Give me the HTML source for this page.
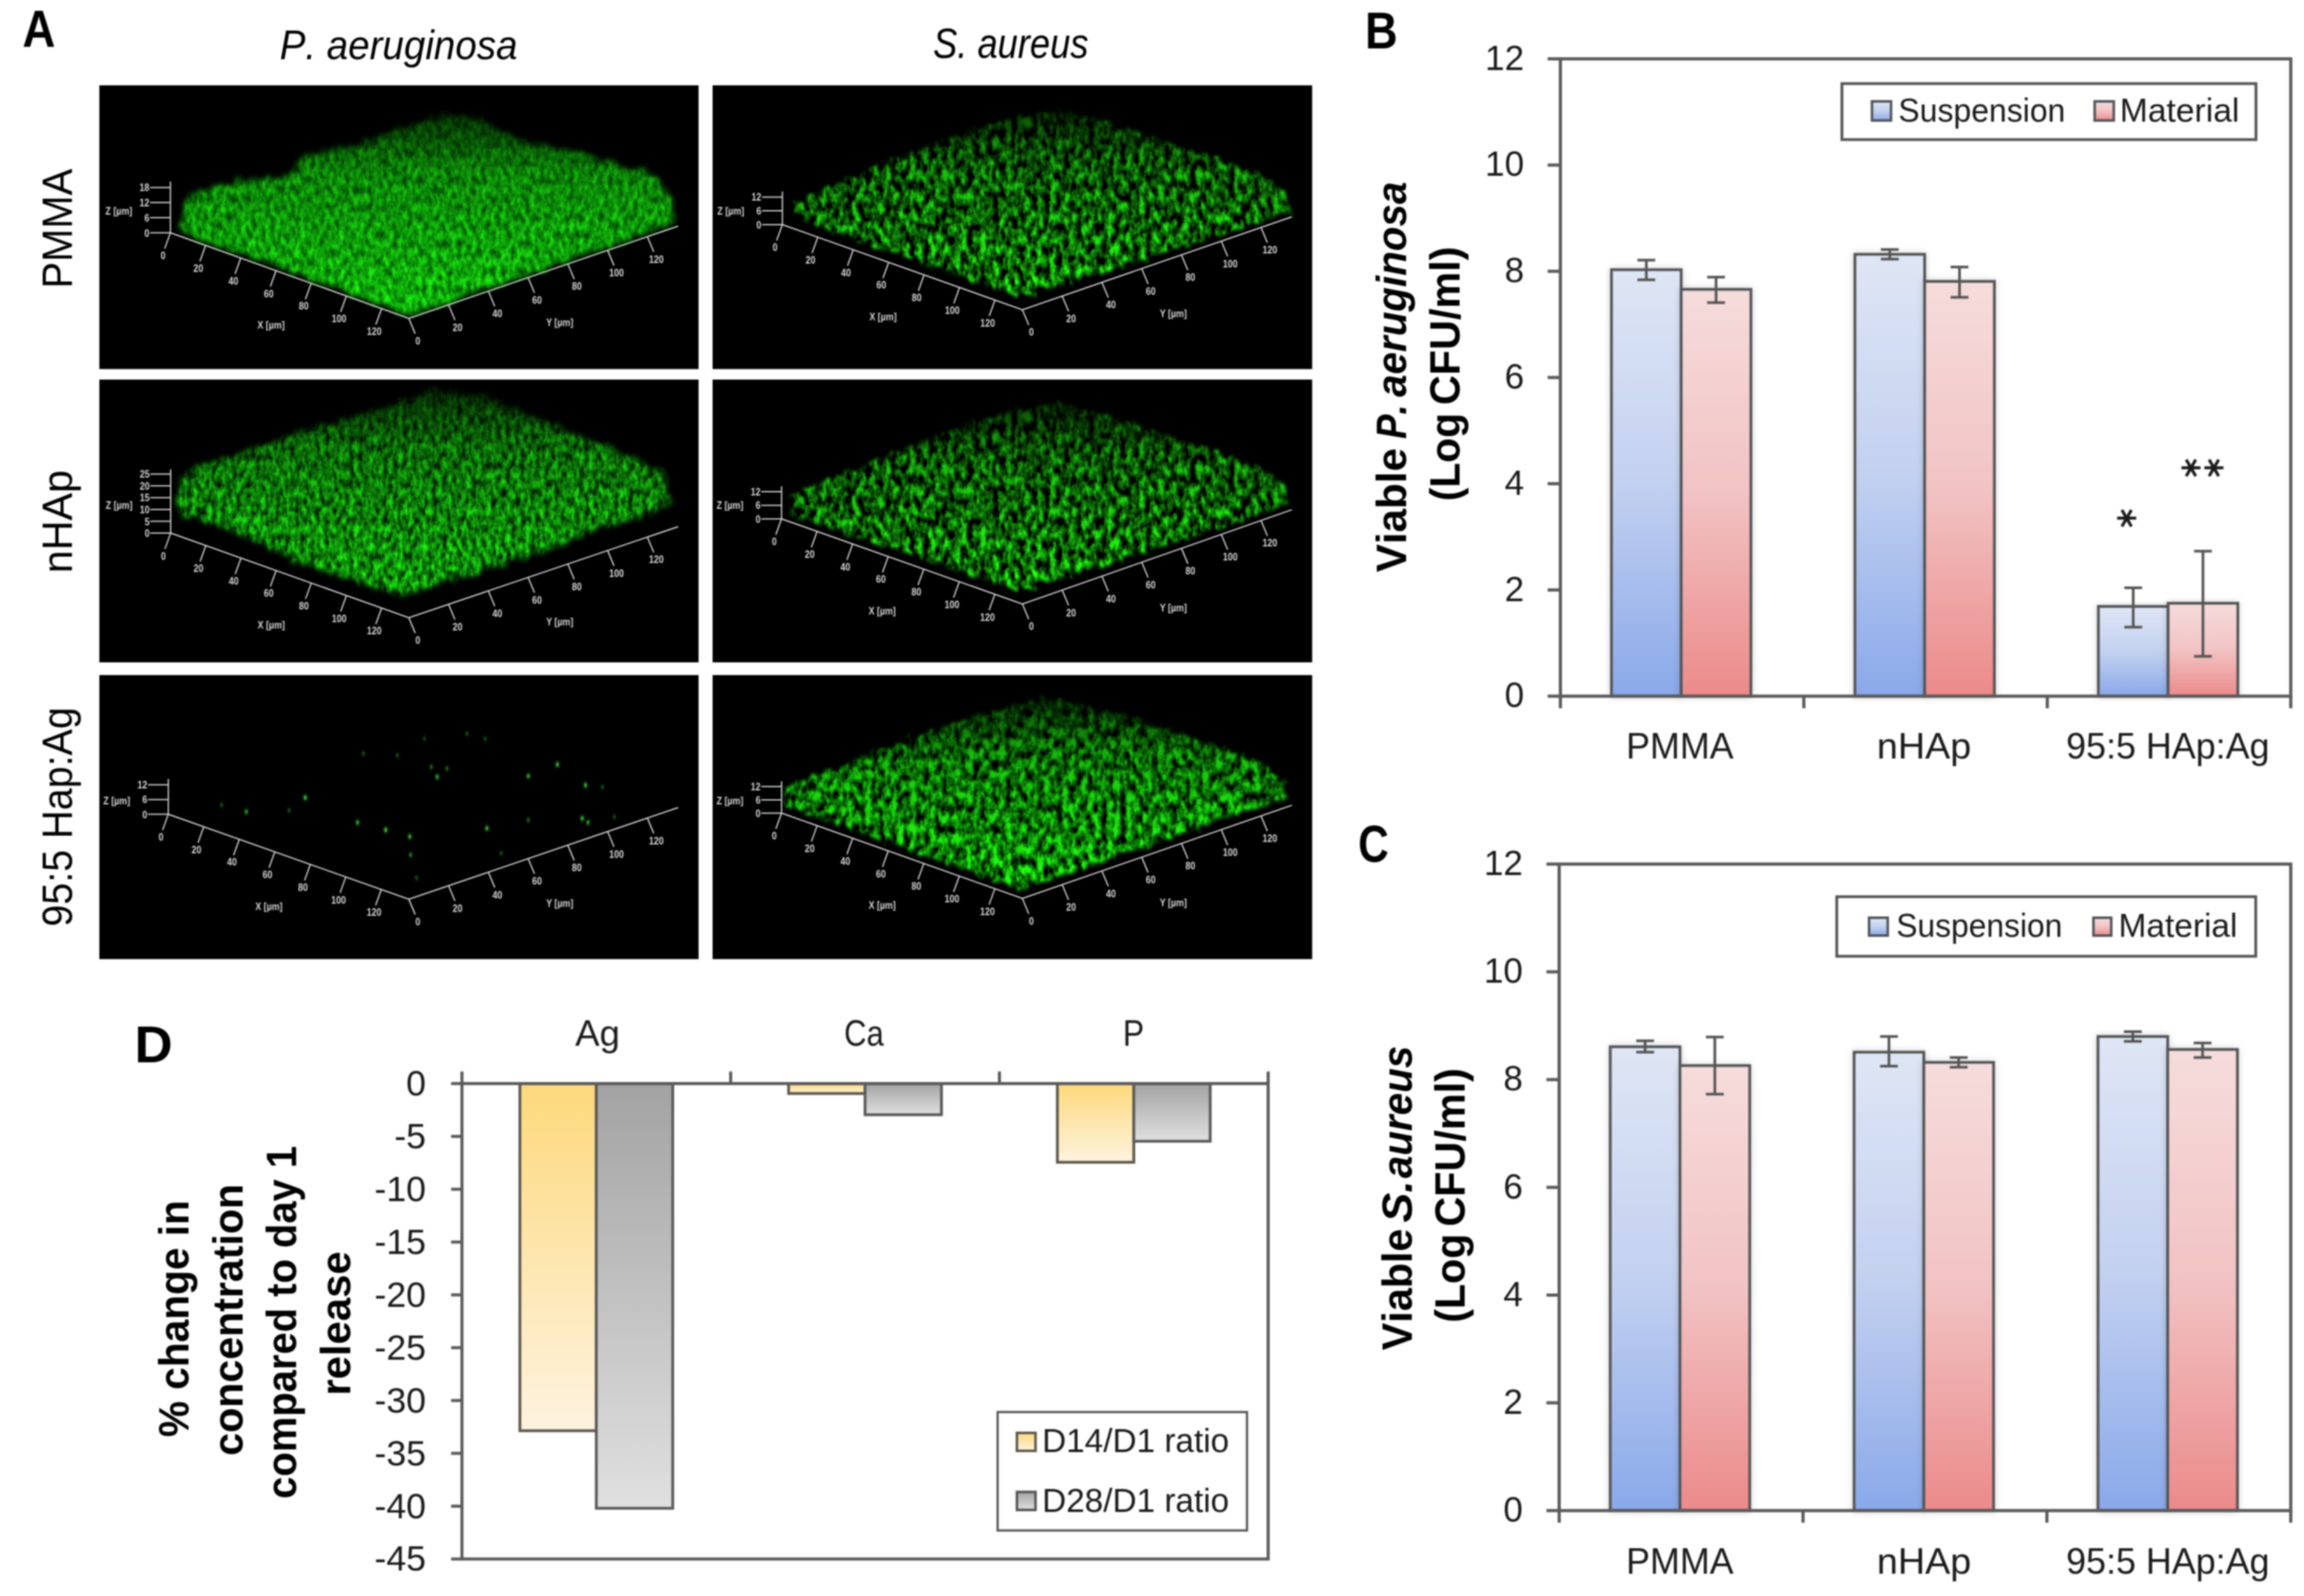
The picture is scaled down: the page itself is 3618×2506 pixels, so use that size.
<!DOCTYPE html>
<html><head><meta charset="utf-8"><title>Figure</title>
<style>html,body{margin:0;padding:0;background:#fff;overflow:hidden}svg{display:block;filter:blur(1.1px)}</style>
</head><body>
<svg width="3618" height="2506" viewBox="0 0 3618 2506">
<defs>
<filter id="fPA" x="-0.05" y="-0.1" width="1.1" height="1.2" color-interpolation-filters="sRGB">
  <feTurbulence type="fractalNoise" baseFrequency="0.13 0.07" numOctaves="4" seed="7" result="n"/>
  <feColorMatrix in="n" type="matrix" values="0.2 0 0 0 -0.04  1.1 0 0 0 0.13  0.1 0 0 0 -0.01  0 0 0 0 1" result="g"/>
  <feTurbulence type="fractalNoise" baseFrequency="0.08" numOctaves="2" seed="2" result="dn"/>
  <feDisplacementMap in="SourceGraphic" in2="dn" scale="22" xChannelSelector="R" yChannelSelector="G" result="disp"/>
  <feGaussianBlur in="disp" stdDeviation="4" result="m"/>
  <feComposite in="g" in2="m" operator="in"/>
</filter>
<filter id="fPA2" x="-0.05" y="-0.1" width="1.1" height="1.2" color-interpolation-filters="sRGB">
  <feTurbulence type="fractalNoise" baseFrequency="0.13 0.07" numOctaves="4" seed="17" result="n"/>
  <feColorMatrix in="n" type="matrix" values="0.2 0 0 0 -0.04  1.5 0 0 0 -0.19  0.1 0 0 0 -0.01  0 0 0 0 1" result="g"/>
  <feTurbulence type="fractalNoise" baseFrequency="0.08" numOctaves="2" seed="12" result="dn"/>
  <feDisplacementMap in="SourceGraphic" in2="dn" scale="22" xChannelSelector="R" yChannelSelector="G" result="disp"/>
  <feGaussianBlur in="disp" stdDeviation="4" result="m"/>
  <feComposite in="g" in2="m" operator="in"/>
</filter>
<filter id="fSA" x="-0.05" y="-0.1" width="1.1" height="1.2" color-interpolation-filters="sRGB">
  <feTurbulence type="fractalNoise" baseFrequency="0.1 0.06" numOctaves="3" seed="3" result="n"/>
  <feColorMatrix in="n" type="matrix" values="0.3 0 0 0 -0.1  2.2 0 0 0 -0.68  0.2 0 0 0 -0.08  0 0 0 0 1" result="g"/>
  <feTurbulence type="fractalNoise" baseFrequency="0.08" numOctaves="2" seed="5" result="dn"/>
  <feDisplacementMap in="SourceGraphic" in2="dn" scale="22" xChannelSelector="R" yChannelSelector="G" result="disp"/>
  <feGaussianBlur in="disp" stdDeviation="2.5" result="m"/>
  <feComposite in="g" in2="m" operator="in"/>
</filter>
<filter id="fSA2" x="-0.05" y="-0.1" width="1.1" height="1.2" color-interpolation-filters="sRGB">
  <feTurbulence type="fractalNoise" baseFrequency="0.1 0.06" numOctaves="3" seed="11" result="n"/>
  <feColorMatrix in="n" type="matrix" values="0.3 0 0 0 -0.1  2.2 0 0 0 -0.56  0.2 0 0 0 -0.08  0 0 0 0 1" result="g"/>
  <feTurbulence type="fractalNoise" baseFrequency="0.08" numOctaves="2" seed="9" result="dn"/>
  <feDisplacementMap in="SourceGraphic" in2="dn" scale="22" xChannelSelector="R" yChannelSelector="G" result="disp"/>
  <feGaussianBlur in="disp" stdDeviation="2.5" result="m"/>
  <feComposite in="g" in2="m" operator="in"/>
</filter>
<linearGradient id="gfade" x1="0" y1="0" x2="0" y2="1">
  <stop offset="0" stop-color="#fff" stop-opacity="0.25"/>
  <stop offset="0.3" stop-color="#fff" stop-opacity="0.75"/>
  <stop offset="0.6" stop-color="#fff" stop-opacity="0.88"/>
  <stop offset="0.9" stop-color="#fff" stop-opacity="1"/>
</linearGradient>

<linearGradient id="gBlue" x1="0" y1="0" x2="0" y2="1">
  <stop offset="0" stop-color="#dfe6f5"/><stop offset="0.5" stop-color="#c3d1f0"/><stop offset="1" stop-color="#8aa9ea"/>
</linearGradient>
<linearGradient id="gRed" x1="0" y1="0" x2="0" y2="1">
  <stop offset="0" stop-color="#f6dcdc"/><stop offset="0.5" stop-color="#f2c3c3"/><stop offset="1" stop-color="#ec8a8a"/>
</linearGradient>
<linearGradient id="gYel" x1="0" y1="0" x2="0" y2="1">
  <stop offset="0" stop-color="#fdd97c"/><stop offset="1" stop-color="#fef3e0"/>
</linearGradient>
<linearGradient id="gGry" x1="0" y1="0" x2="0" y2="1">
  <stop offset="0" stop-color="#a3a3a3"/><stop offset="1" stop-color="#e0e0e0"/>
</linearGradient>
<filter id="shadow" x="-0.2" y="-0.05" width="1.4" height="1.1">
  <feGaussianBlur in="SourceAlpha" stdDeviation="6"/>
  <feComponentTransfer><feFuncA type="linear" slope="0.18"/></feComponentTransfer>
  <feMerge><feMergeNode/><feMergeNode in="SourceGraphic"/></feMerge>
</filter>
</defs>
<rect width="3618" height="2506" fill="#fff"/>
<text x="35.22" y="73.00" textLength="51.67" lengthAdjust="spacingAndGlyphs" style="font-family:'Liberation Sans', Arial, sans-serif;font-size:82.00px;font-weight:bold;font-style:normal;font-kerning:none" fill="#000" >A</text>
<text x="439.14" y="92.60" textLength="373.43" lengthAdjust="spacingAndGlyphs" style="font-family:'Liberation Sans', Arial, sans-serif;font-size:65.00px;font-weight:normal;font-style:italic;font-kerning:none" fill="#000" >P. aeruginosa</text>
<text x="1465.19" y="91.20" textLength="243.98" lengthAdjust="spacingAndGlyphs" style="font-family:'Liberation Sans', Arial, sans-serif;font-size:66.00px;font-weight:normal;font-style:italic;font-kerning:none" fill="#000" >S. aureus</text>
<text transform="translate(113.00,447.80) rotate(-90)" x="-5.14" y="0" textLength="187.86" lengthAdjust="spacingAndGlyphs" style="font-family:'Liberation Sans', Arial, sans-serif;font-size:67.00px;font-weight:normal;font-style:normal;font-kerning:none" fill="#000" >PMMA</text>
<text transform="translate(112.80,895.80) rotate(-90)" x="-4.30" y="0" textLength="162.13" lengthAdjust="spacingAndGlyphs" style="font-family:'Liberation Sans', Arial, sans-serif;font-size:67.00px;font-weight:normal;font-style:normal;font-kerning:none" fill="#000" >nHAp</text>
<text transform="translate(112.60,1452.00) rotate(-90)" x="-2.91" y="0" textLength="344.60" lengthAdjust="spacingAndGlyphs" style="font-family:'Liberation Sans', Arial, sans-serif;font-size:67.00px;font-weight:normal;font-style:normal;font-kerning:none" fill="#000" >95:5 Hap:Ag</text>
<rect x="156" y="134" width="941.0" height="445.5" fill="#000"/>
<g transform="translate(156,134)">
<polygon points="128,230 127,192 144,172 213,151 300,142 318,113 422,88 491,62 543,44 595,52 665,88 769,112 873,142 897,183 904,216 490,361" fill="url(#gfade)" filter="url(#fPA)"/>
<g stroke="#d4d0d4" stroke-width="2" fill="none">
<polyline points="111.6,150.9 111.6,231.5 486,366 909,221"/>
<line x1="111.6" y1="231.5" x2="102.6" y2="256.5"/>
<line x1="486.0" y1="366.0" x2="496.0" y2="390.0"/>
<line x1="166.9" y1="251.4" x2="157.9" y2="276.4"/>
<line x1="548.4" y1="344.6" x2="558.4" y2="368.6"/>
<line x1="222.1" y1="271.2" x2="213.1" y2="296.2"/>
<line x1="610.9" y1="323.2" x2="620.9" y2="347.2"/>
<line x1="277.4" y1="291.1" x2="268.4" y2="316.1"/>
<line x1="673.3" y1="301.8" x2="683.3" y2="325.8"/>
<line x1="332.6" y1="310.9" x2="323.6" y2="335.9"/>
<line x1="735.7" y1="280.4" x2="745.7" y2="304.4"/>
<line x1="387.9" y1="330.8" x2="378.9" y2="355.8"/>
<line x1="798.2" y1="259.0" x2="808.2" y2="283.0"/>
<line x1="443.2" y1="350.6" x2="434.2" y2="375.6"/>
<line x1="860.6" y1="237.6" x2="870.6" y2="261.6"/>
<line x1="79.6" y1="231.5" x2="111.6" y2="231.5"/>
<line x1="79.6" y1="207.8" x2="111.6" y2="207.8"/>
<line x1="79.6" y1="184.1" x2="111.6" y2="184.1"/>
<line x1="79.6" y1="160.4" x2="111.6" y2="160.4"/>
</g>
<g fill="#d4d4d4" style="font-family:'Liberation Sans', Arial, sans-serif;font-size:17px;font-weight:bold">
<text transform="translate(100.1,273.0) scale(0.82,1)" text-anchor="middle">0</text>
<text transform="translate(500.0,407.0) scale(0.82,1)" text-anchor="middle">0</text>
<text transform="translate(155.4,292.9) scale(0.82,1)" text-anchor="middle">20</text>
<text transform="translate(562.4,385.6) scale(0.82,1)" text-anchor="middle">20</text>
<text transform="translate(210.6,312.7) scale(0.82,1)" text-anchor="middle">40</text>
<text transform="translate(624.9,364.2) scale(0.82,1)" text-anchor="middle">40</text>
<text transform="translate(265.9,332.6) scale(0.82,1)" text-anchor="middle">60</text>
<text transform="translate(687.3,342.8) scale(0.82,1)" text-anchor="middle">60</text>
<text transform="translate(321.1,352.4) scale(0.82,1)" text-anchor="middle">80</text>
<text transform="translate(749.7,321.4) scale(0.82,1)" text-anchor="middle">80</text>
<text transform="translate(376.4,372.3) scale(0.82,1)" text-anchor="middle">100</text>
<text transform="translate(812.2,300.0) scale(0.82,1)" text-anchor="middle">100</text>
<text transform="translate(431.7,392.1) scale(0.82,1)" text-anchor="middle">120</text>
<text transform="translate(874.6,278.6) scale(0.82,1)" text-anchor="middle">120</text>
<text transform="translate(78.6,237.5) scale(0.82,1)" text-anchor="end">0</text>
<text transform="translate(78.6,213.8) scale(0.82,1)" text-anchor="end">6</text>
<text transform="translate(78.6,190.1) scale(0.82,1)" text-anchor="end">12</text>
<text transform="translate(78.6,166.4) scale(0.82,1)" text-anchor="end">18</text>
<text transform="translate(9.6,203.0) scale(0.82,1)" text-anchor="start">Z [µm]</text>
<text transform="translate(269.6,381.5) scale(0.82,1)" text-anchor="middle">X [µm]</text>
<text transform="translate(723.0,378.0) scale(0.82,1)" text-anchor="middle">Y [µm]</text>
</g>
</g>
<rect x="1119" y="134" width="941.5" height="445.5" fill="#000"/>
<g transform="translate(1119,134)">
<polygon points="127,206 127,184 204,151 327,102 409,69 490,45 544,39 654,69 776,110 858,139 907,176 907,200 486,333" fill="url(#gfade)" filter="url(#fSA)"/>
<g stroke="#d4d0d4" stroke-width="2" fill="none">
<polyline points="109.6,166.8 109.6,218.7 486.5,352.4 909.6,206.5"/>
<line x1="109.6" y1="218.7" x2="100.6" y2="243.7"/>
<line x1="486.5" y1="352.4" x2="496.5" y2="376.4"/>
<line x1="165.2" y1="238.4" x2="156.2" y2="263.4"/>
<line x1="549.0" y1="330.9" x2="559.0" y2="354.9"/>
<line x1="220.9" y1="258.2" x2="211.9" y2="283.2"/>
<line x1="611.4" y1="309.3" x2="621.4" y2="333.3"/>
<line x1="276.5" y1="277.9" x2="267.5" y2="302.9"/>
<line x1="673.9" y1="287.8" x2="683.9" y2="311.8"/>
<line x1="332.1" y1="297.6" x2="323.1" y2="322.6"/>
<line x1="736.3" y1="266.3" x2="746.3" y2="290.3"/>
<line x1="387.8" y1="317.4" x2="378.8" y2="342.4"/>
<line x1="798.8" y1="244.7" x2="808.8" y2="268.7"/>
<line x1="443.4" y1="337.1" x2="434.4" y2="362.1"/>
<line x1="861.2" y1="223.2" x2="871.2" y2="247.2"/>
<line x1="77.6" y1="218.7" x2="109.6" y2="218.7"/>
<line x1="77.6" y1="197.1" x2="109.6" y2="197.1"/>
<line x1="77.6" y1="175.4" x2="109.6" y2="175.4"/>
</g>
<g fill="#d4d4d4" style="font-family:'Liberation Sans', Arial, sans-serif;font-size:17px;font-weight:bold">
<text transform="translate(98.1,260.2) scale(0.82,1)" text-anchor="middle">0</text>
<text transform="translate(500.5,393.4) scale(0.82,1)" text-anchor="middle">0</text>
<text transform="translate(153.7,279.9) scale(0.82,1)" text-anchor="middle">20</text>
<text transform="translate(563.0,371.9) scale(0.82,1)" text-anchor="middle">20</text>
<text transform="translate(209.4,299.7) scale(0.82,1)" text-anchor="middle">40</text>
<text transform="translate(625.4,350.3) scale(0.82,1)" text-anchor="middle">40</text>
<text transform="translate(265.0,319.4) scale(0.82,1)" text-anchor="middle">60</text>
<text transform="translate(687.9,328.8) scale(0.82,1)" text-anchor="middle">60</text>
<text transform="translate(320.6,339.1) scale(0.82,1)" text-anchor="middle">80</text>
<text transform="translate(750.3,307.3) scale(0.82,1)" text-anchor="middle">80</text>
<text transform="translate(376.3,358.9) scale(0.82,1)" text-anchor="middle">100</text>
<text transform="translate(812.8,285.7) scale(0.82,1)" text-anchor="middle">100</text>
<text transform="translate(431.9,378.6) scale(0.82,1)" text-anchor="middle">120</text>
<text transform="translate(875.2,264.2) scale(0.82,1)" text-anchor="middle">120</text>
<text transform="translate(76.6,224.7) scale(0.82,1)" text-anchor="end">0</text>
<text transform="translate(76.6,203.1) scale(0.82,1)" text-anchor="end">6</text>
<text transform="translate(76.6,181.4) scale(0.82,1)" text-anchor="end">12</text>
<text transform="translate(7.6,203.0) scale(0.82,1)" text-anchor="start">Z [µm]</text>
<text transform="translate(267.6,368.7) scale(0.82,1)" text-anchor="middle">X [µm]</text>
<text transform="translate(723.5,364.4) scale(0.82,1)" text-anchor="middle">Y [µm]</text>
</g>
</g>
<rect x="156" y="596" width="941.0" height="444.0" fill="#000"/>
<g transform="translate(156,596)">
<polygon points="131,216 122,196 124,172 144,140 248,108 352,73 456,42 526,14 595,25 700,66 804,108 890,150 897,191 873,205 769,240 700,268 470,339 318,289 248,254 144,214" fill="url(#gfade)" filter="url(#fPA2)"/>
<g stroke="#d4d0d4" stroke-width="2" fill="none">
<polyline points="112,141 112,241 486,374 909,231"/>
<line x1="112.0" y1="241.0" x2="103.0" y2="266.0"/>
<line x1="486.0" y1="374.0" x2="496.0" y2="398.0"/>
<line x1="167.2" y1="260.6" x2="158.2" y2="285.6"/>
<line x1="548.4" y1="352.9" x2="558.4" y2="376.9"/>
<line x1="222.4" y1="280.3" x2="213.4" y2="305.3"/>
<line x1="610.9" y1="331.8" x2="620.9" y2="355.8"/>
<line x1="277.6" y1="299.9" x2="268.6" y2="324.9"/>
<line x1="673.3" y1="310.7" x2="683.3" y2="334.7"/>
<line x1="332.8" y1="319.5" x2="323.8" y2="344.5"/>
<line x1="735.7" y1="289.6" x2="745.7" y2="313.6"/>
<line x1="388.0" y1="339.2" x2="379.0" y2="364.2"/>
<line x1="798.2" y1="268.5" x2="808.2" y2="292.5"/>
<line x1="443.2" y1="358.8" x2="434.2" y2="383.8"/>
<line x1="860.6" y1="247.4" x2="870.6" y2="271.4"/>
<line x1="80.0" y1="241.0" x2="112.0" y2="241.0"/>
<line x1="80.0" y1="222.5" x2="112.0" y2="222.5"/>
<line x1="80.0" y1="204.0" x2="112.0" y2="204.0"/>
<line x1="80.0" y1="185.4" x2="112.0" y2="185.4"/>
<line x1="80.0" y1="166.9" x2="112.0" y2="166.9"/>
<line x1="80.0" y1="148.4" x2="112.0" y2="148.4"/>
</g>
<g fill="#d4d4d4" style="font-family:'Liberation Sans', Arial, sans-serif;font-size:17px;font-weight:bold">
<text transform="translate(100.5,282.5) scale(0.82,1)" text-anchor="middle">0</text>
<text transform="translate(500.0,415.0) scale(0.82,1)" text-anchor="middle">0</text>
<text transform="translate(155.7,302.1) scale(0.82,1)" text-anchor="middle">20</text>
<text transform="translate(562.4,393.9) scale(0.82,1)" text-anchor="middle">20</text>
<text transform="translate(210.9,321.8) scale(0.82,1)" text-anchor="middle">40</text>
<text transform="translate(624.9,372.8) scale(0.82,1)" text-anchor="middle">40</text>
<text transform="translate(266.1,341.4) scale(0.82,1)" text-anchor="middle">60</text>
<text transform="translate(687.3,351.7) scale(0.82,1)" text-anchor="middle">60</text>
<text transform="translate(321.3,361.0) scale(0.82,1)" text-anchor="middle">80</text>
<text transform="translate(749.7,330.6) scale(0.82,1)" text-anchor="middle">80</text>
<text transform="translate(376.5,380.7) scale(0.82,1)" text-anchor="middle">100</text>
<text transform="translate(812.2,309.5) scale(0.82,1)" text-anchor="middle">100</text>
<text transform="translate(431.7,400.3) scale(0.82,1)" text-anchor="middle">120</text>
<text transform="translate(874.6,288.4) scale(0.82,1)" text-anchor="middle">120</text>
<text transform="translate(79.0,247.0) scale(0.82,1)" text-anchor="end">0</text>
<text transform="translate(79.0,228.5) scale(0.82,1)" text-anchor="end">5</text>
<text transform="translate(79.0,210.0) scale(0.82,1)" text-anchor="end">10</text>
<text transform="translate(79.0,191.4) scale(0.82,1)" text-anchor="end">15</text>
<text transform="translate(79.0,172.9) scale(0.82,1)" text-anchor="end">20</text>
<text transform="translate(79.0,154.4) scale(0.82,1)" text-anchor="end">25</text>
<text transform="translate(10.0,203.0) scale(0.82,1)" text-anchor="start">Z [µm]</text>
<text transform="translate(270.0,391.0) scale(0.82,1)" text-anchor="middle">X [µm]</text>
<text transform="translate(723.0,386.0) scale(0.82,1)" text-anchor="middle">Y [µm]</text>
</g>
</g>
<rect x="1119" y="596" width="941.5" height="444.0" fill="#000"/>
<g transform="translate(1119,596)">
<polygon points="123,212 123,180 204,149 327,100 409,67 490,43 544,37 654,67 776,108 858,137 903,172 903,196 486,333" fill="url(#gfade)" filter="url(#fSA)"/>
<g stroke="#d4d0d4" stroke-width="2" fill="none">
<polyline points="108.3,167.6 108.3,218.7 486.5,352.4 909.6,204.4"/>
<line x1="108.3" y1="218.7" x2="99.3" y2="243.7"/>
<line x1="486.5" y1="352.4" x2="496.5" y2="376.4"/>
<line x1="164.1" y1="238.4" x2="155.1" y2="263.4"/>
<line x1="549.0" y1="330.6" x2="559.0" y2="354.6"/>
<line x1="219.9" y1="258.2" x2="210.9" y2="283.2"/>
<line x1="611.4" y1="308.7" x2="621.4" y2="332.7"/>
<line x1="275.8" y1="277.9" x2="266.8" y2="302.9"/>
<line x1="673.9" y1="286.9" x2="683.9" y2="310.9"/>
<line x1="331.6" y1="297.6" x2="322.6" y2="322.6"/>
<line x1="736.3" y1="265.0" x2="746.3" y2="289.0"/>
<line x1="387.4" y1="317.4" x2="378.4" y2="342.4"/>
<line x1="798.8" y1="243.2" x2="808.8" y2="267.2"/>
<line x1="443.2" y1="337.1" x2="434.2" y2="362.1"/>
<line x1="861.2" y1="221.3" x2="871.2" y2="245.3"/>
<line x1="76.3" y1="218.7" x2="108.3" y2="218.7"/>
<line x1="76.3" y1="197.4" x2="108.3" y2="197.4"/>
<line x1="76.3" y1="176.1" x2="108.3" y2="176.1"/>
</g>
<g fill="#d4d4d4" style="font-family:'Liberation Sans', Arial, sans-serif;font-size:17px;font-weight:bold">
<text transform="translate(96.8,260.2) scale(0.82,1)" text-anchor="middle">0</text>
<text transform="translate(500.5,393.4) scale(0.82,1)" text-anchor="middle">0</text>
<text transform="translate(152.6,279.9) scale(0.82,1)" text-anchor="middle">20</text>
<text transform="translate(563.0,371.6) scale(0.82,1)" text-anchor="middle">20</text>
<text transform="translate(208.4,299.7) scale(0.82,1)" text-anchor="middle">40</text>
<text transform="translate(625.4,349.7) scale(0.82,1)" text-anchor="middle">40</text>
<text transform="translate(264.3,319.4) scale(0.82,1)" text-anchor="middle">60</text>
<text transform="translate(687.9,327.9) scale(0.82,1)" text-anchor="middle">60</text>
<text transform="translate(320.1,339.1) scale(0.82,1)" text-anchor="middle">80</text>
<text transform="translate(750.3,306.0) scale(0.82,1)" text-anchor="middle">80</text>
<text transform="translate(375.9,358.9) scale(0.82,1)" text-anchor="middle">100</text>
<text transform="translate(812.8,284.2) scale(0.82,1)" text-anchor="middle">100</text>
<text transform="translate(431.7,378.6) scale(0.82,1)" text-anchor="middle">120</text>
<text transform="translate(875.2,262.3) scale(0.82,1)" text-anchor="middle">120</text>
<text transform="translate(75.3,224.7) scale(0.82,1)" text-anchor="end">0</text>
<text transform="translate(75.3,203.4) scale(0.82,1)" text-anchor="end">6</text>
<text transform="translate(75.3,182.1) scale(0.82,1)" text-anchor="end">12</text>
<text transform="translate(6.3,203.0) scale(0.82,1)" text-anchor="start">Z [µm]</text>
<text transform="translate(266.3,368.7) scale(0.82,1)" text-anchor="middle">X [µm]</text>
<text transform="translate(723.5,364.4) scale(0.82,1)" text-anchor="middle">Y [µm]</text>
</g>
</g>
<rect x="156" y="1060" width="941.0" height="446.0" fill="#000"/>
<g transform="translate(156,1060)">
<ellipse cx="323.4" cy="192.3" rx="2.2" ry="3.6" fill="#3fd23f" opacity="1.00"/>
<ellipse cx="323.4" cy="192.3" rx="5" ry="7" fill="#1a6a1a" opacity="0.35"/>
<ellipse cx="405.5" cy="231.4" rx="2.2" ry="3.6" fill="#3fd23f" opacity="0.80"/>
<ellipse cx="405.5" cy="231.4" rx="5" ry="7" fill="#1a6a1a" opacity="0.28"/>
<ellipse cx="449.7" cy="243.1" rx="2.2" ry="3.6" fill="#3fd23f" opacity="1.00"/>
<ellipse cx="449.7" cy="243.1" rx="5" ry="7" fill="#1a6a1a" opacity="0.35"/>
<ellipse cx="487.5" cy="253.5" rx="2.2" ry="3.6" fill="#3fd23f" opacity="0.90"/>
<ellipse cx="487.5" cy="253.5" rx="5" ry="7" fill="#1a6a1a" opacity="0.32"/>
<ellipse cx="488.8" cy="282.2" rx="2.2" ry="3.6" fill="#3fd23f" opacity="0.50"/>
<ellipse cx="488.8" cy="282.2" rx="5" ry="7" fill="#1a6a1a" opacity="0.17"/>
<ellipse cx="530.5" cy="159.8" rx="2.2" ry="3.6" fill="#3fd23f" opacity="0.80"/>
<ellipse cx="530.5" cy="159.8" rx="5" ry="7" fill="#1a6a1a" opacity="0.28"/>
<ellipse cx="546.0" cy="146.8" rx="2.2" ry="3.6" fill="#3fd23f" opacity="0.40"/>
<ellipse cx="546.0" cy="146.8" rx="5" ry="7" fill="#1a6a1a" opacity="0.14"/>
<ellipse cx="521.3" cy="144.2" rx="2.2" ry="3.6" fill="#3fd23f" opacity="0.40"/>
<ellipse cx="521.3" cy="144.2" rx="5" ry="7" fill="#1a6a1a" opacity="0.14"/>
<ellipse cx="608.6" cy="240.5" rx="2.2" ry="3.6" fill="#3fd23f" opacity="0.90"/>
<ellipse cx="608.6" cy="240.5" rx="5" ry="7" fill="#1a6a1a" opacity="0.32"/>
<ellipse cx="673.7" cy="158.5" rx="2.2" ry="3.6" fill="#3fd23f" opacity="0.80"/>
<ellipse cx="673.7" cy="158.5" rx="5" ry="7" fill="#1a6a1a" opacity="0.28"/>
<ellipse cx="719.3" cy="140.3" rx="2.2" ry="3.6" fill="#3fd23f" opacity="0.90"/>
<ellipse cx="719.3" cy="140.3" rx="5" ry="7" fill="#1a6a1a" opacity="0.32"/>
<ellipse cx="763.5" cy="172.8" rx="2.2" ry="3.6" fill="#3fd23f" opacity="0.90"/>
<ellipse cx="763.5" cy="172.8" rx="5" ry="7" fill="#1a6a1a" opacity="0.32"/>
<ellipse cx="758.3" cy="224.9" rx="2.2" ry="3.6" fill="#3fd23f" opacity="0.90"/>
<ellipse cx="758.3" cy="224.9" rx="5" ry="7" fill="#1a6a1a" opacity="0.32"/>
<ellipse cx="767.4" cy="231.4" rx="2.2" ry="3.6" fill="#3fd23f" opacity="0.70"/>
<ellipse cx="767.4" cy="231.4" rx="5" ry="7" fill="#1a6a1a" opacity="0.24"/>
<ellipse cx="673.7" cy="227.5" rx="2.2" ry="3.6" fill="#3fd23f" opacity="0.40"/>
<ellipse cx="673.7" cy="227.5" rx="5" ry="7" fill="#1a6a1a" opacity="0.14"/>
<ellipse cx="414.6" cy="123.3" rx="2.2" ry="3.6" fill="#3fd23f" opacity="0.30"/>
<ellipse cx="414.6" cy="123.3" rx="5" ry="7" fill="#1a6a1a" opacity="0.10"/>
<ellipse cx="468.0" cy="126.0" rx="2.2" ry="3.6" fill="#3fd23f" opacity="0.30"/>
<ellipse cx="468.0" cy="126.0" rx="5" ry="7" fill="#1a6a1a" opacity="0.10"/>
<ellipse cx="577.3" cy="92.0" rx="2.2" ry="3.6" fill="#3fd23f" opacity="0.30"/>
<ellipse cx="577.3" cy="92.0" rx="5" ry="7" fill="#1a6a1a" opacity="0.10"/>
<ellipse cx="606.0" cy="100.0" rx="2.2" ry="3.6" fill="#3fd23f" opacity="0.30"/>
<ellipse cx="606.0" cy="100.0" rx="5" ry="7" fill="#1a6a1a" opacity="0.10"/>
<ellipse cx="230.8" cy="214.5" rx="2.2" ry="3.6" fill="#3fd23f" opacity="0.70"/>
<ellipse cx="230.8" cy="214.5" rx="5" ry="7" fill="#1a6a1a" opacity="0.24"/>
<ellipse cx="790.0" cy="175.6" rx="2.2" ry="3.6" fill="#3fd23f" opacity="0.30"/>
<ellipse cx="790.0" cy="175.6" rx="5" ry="7" fill="#1a6a1a" opacity="0.10"/>
<ellipse cx="808.8" cy="222.6" rx="2.2" ry="3.6" fill="#3fd23f" opacity="0.30"/>
<ellipse cx="808.8" cy="222.6" rx="5" ry="7" fill="#1a6a1a" opacity="0.10"/>
<ellipse cx="631.0" cy="279.8" rx="2.2" ry="3.6" fill="#3fd23f" opacity="0.30"/>
<ellipse cx="631.0" cy="279.8" rx="5" ry="7" fill="#1a6a1a" opacity="0.10"/>
<ellipse cx="498.0" cy="318.6" rx="2.2" ry="3.6" fill="#3fd23f" opacity="0.30"/>
<ellipse cx="498.0" cy="318.6" rx="5" ry="7" fill="#1a6a1a" opacity="0.10"/>
<ellipse cx="298.0" cy="212.4" rx="2.2" ry="3.6" fill="#3fd23f" opacity="0.30"/>
<ellipse cx="298.0" cy="212.4" rx="5" ry="7" fill="#1a6a1a" opacity="0.10"/>
<ellipse cx="192.0" cy="204.0" rx="2.2" ry="3.6" fill="#3fd23f" opacity="0.30"/>
<ellipse cx="192.0" cy="204.0" rx="5" ry="7" fill="#1a6a1a" opacity="0.10"/>
<ellipse cx="510.6" cy="100.0" rx="2.2" ry="3.6" fill="#3fd23f" opacity="0.25"/>
<ellipse cx="510.6" cy="100.0" rx="5" ry="7" fill="#1a6a1a" opacity="0.09"/>
<g stroke="#d4d0d4" stroke-width="2" fill="none">
<polyline points="108.3,163 108.3,218.5 486,352 909,208"/>
<line x1="108.3" y1="218.5" x2="99.3" y2="243.5"/>
<line x1="486.0" y1="352.0" x2="496.0" y2="376.0"/>
<line x1="164.0" y1="238.2" x2="155.0" y2="263.2"/>
<line x1="548.4" y1="330.7" x2="558.4" y2="354.7"/>
<line x1="219.8" y1="257.9" x2="210.8" y2="282.9"/>
<line x1="610.9" y1="309.5" x2="620.9" y2="333.5"/>
<line x1="275.5" y1="277.6" x2="266.5" y2="302.6"/>
<line x1="673.3" y1="288.2" x2="683.3" y2="312.2"/>
<line x1="331.3" y1="297.3" x2="322.3" y2="322.3"/>
<line x1="735.7" y1="267.0" x2="745.7" y2="291.0"/>
<line x1="387.0" y1="317.0" x2="378.0" y2="342.0"/>
<line x1="798.2" y1="245.7" x2="808.2" y2="269.7"/>
<line x1="442.8" y1="336.7" x2="433.8" y2="361.7"/>
<line x1="860.6" y1="224.5" x2="870.6" y2="248.5"/>
<line x1="76.3" y1="218.5" x2="108.3" y2="218.5"/>
<line x1="76.3" y1="195.4" x2="108.3" y2="195.4"/>
<line x1="76.3" y1="172.2" x2="108.3" y2="172.2"/>
</g>
<g fill="#d4d4d4" style="font-family:'Liberation Sans', Arial, sans-serif;font-size:17px;font-weight:bold">
<text transform="translate(96.8,260.0) scale(0.82,1)" text-anchor="middle">0</text>
<text transform="translate(500.0,393.0) scale(0.82,1)" text-anchor="middle">0</text>
<text transform="translate(152.5,279.7) scale(0.82,1)" text-anchor="middle">20</text>
<text transform="translate(562.4,371.7) scale(0.82,1)" text-anchor="middle">20</text>
<text transform="translate(208.3,299.4) scale(0.82,1)" text-anchor="middle">40</text>
<text transform="translate(624.9,350.5) scale(0.82,1)" text-anchor="middle">40</text>
<text transform="translate(264.0,319.1) scale(0.82,1)" text-anchor="middle">60</text>
<text transform="translate(687.3,329.2) scale(0.82,1)" text-anchor="middle">60</text>
<text transform="translate(319.8,338.8) scale(0.82,1)" text-anchor="middle">80</text>
<text transform="translate(749.7,308.0) scale(0.82,1)" text-anchor="middle">80</text>
<text transform="translate(375.5,358.5) scale(0.82,1)" text-anchor="middle">100</text>
<text transform="translate(812.2,286.7) scale(0.82,1)" text-anchor="middle">100</text>
<text transform="translate(431.3,378.2) scale(0.82,1)" text-anchor="middle">120</text>
<text transform="translate(874.6,265.5) scale(0.82,1)" text-anchor="middle">120</text>
<text transform="translate(75.3,224.5) scale(0.82,1)" text-anchor="end">0</text>
<text transform="translate(75.3,201.4) scale(0.82,1)" text-anchor="end">6</text>
<text transform="translate(75.3,178.2) scale(0.82,1)" text-anchor="end">12</text>
<text transform="translate(6.3,203.0) scale(0.82,1)" text-anchor="start">Z [µm]</text>
<text transform="translate(266.3,368.5) scale(0.82,1)" text-anchor="middle">X [µm]</text>
<text transform="translate(723.0,364.0) scale(0.82,1)" text-anchor="middle">Y [µm]</text>
</g>
</g>
<rect x="1119" y="1060" width="941.5" height="446.0" fill="#000"/>
<g transform="translate(1119,1060)">
<polygon points="114,204 114,176 204,143 327,96 409,65 490,43 531,37 654,65 776,106 858,135 899,172 899,192 486,337" fill="url(#gfade)" filter="url(#fSA2)"/>
<g stroke="#d4d0d4" stroke-width="2" fill="none">
<polyline points="108.3,166.8 108.3,216.7 486.5,350.8 909.6,204.4"/>
<line x1="108.3" y1="216.7" x2="99.3" y2="241.7"/>
<line x1="486.5" y1="350.8" x2="496.5" y2="374.8"/>
<line x1="164.1" y1="236.5" x2="155.1" y2="261.5"/>
<line x1="549.0" y1="329.2" x2="559.0" y2="353.2"/>
<line x1="219.9" y1="256.3" x2="210.9" y2="281.3"/>
<line x1="611.4" y1="307.6" x2="621.4" y2="331.6"/>
<line x1="275.8" y1="276.1" x2="266.8" y2="301.1"/>
<line x1="673.9" y1="286.0" x2="683.9" y2="310.0"/>
<line x1="331.6" y1="295.9" x2="322.6" y2="320.9"/>
<line x1="736.3" y1="264.4" x2="746.3" y2="288.4"/>
<line x1="387.4" y1="315.7" x2="378.4" y2="340.7"/>
<line x1="798.8" y1="242.8" x2="808.8" y2="266.8"/>
<line x1="443.2" y1="335.5" x2="434.2" y2="360.5"/>
<line x1="861.2" y1="221.1" x2="871.2" y2="245.1"/>
<line x1="76.3" y1="216.7" x2="108.3" y2="216.7"/>
<line x1="76.3" y1="195.9" x2="108.3" y2="195.9"/>
<line x1="76.3" y1="175.1" x2="108.3" y2="175.1"/>
</g>
<g fill="#d4d4d4" style="font-family:'Liberation Sans', Arial, sans-serif;font-size:17px;font-weight:bold">
<text transform="translate(96.8,258.2) scale(0.82,1)" text-anchor="middle">0</text>
<text transform="translate(500.5,391.8) scale(0.82,1)" text-anchor="middle">0</text>
<text transform="translate(152.6,278.0) scale(0.82,1)" text-anchor="middle">20</text>
<text transform="translate(563.0,370.2) scale(0.82,1)" text-anchor="middle">20</text>
<text transform="translate(208.4,297.8) scale(0.82,1)" text-anchor="middle">40</text>
<text transform="translate(625.4,348.6) scale(0.82,1)" text-anchor="middle">40</text>
<text transform="translate(264.3,317.6) scale(0.82,1)" text-anchor="middle">60</text>
<text transform="translate(687.9,327.0) scale(0.82,1)" text-anchor="middle">60</text>
<text transform="translate(320.1,337.4) scale(0.82,1)" text-anchor="middle">80</text>
<text transform="translate(750.3,305.4) scale(0.82,1)" text-anchor="middle">80</text>
<text transform="translate(375.9,357.2) scale(0.82,1)" text-anchor="middle">100</text>
<text transform="translate(812.8,283.8) scale(0.82,1)" text-anchor="middle">100</text>
<text transform="translate(431.7,377.0) scale(0.82,1)" text-anchor="middle">120</text>
<text transform="translate(875.2,262.1) scale(0.82,1)" text-anchor="middle">120</text>
<text transform="translate(75.3,222.7) scale(0.82,1)" text-anchor="end">0</text>
<text transform="translate(75.3,201.9) scale(0.82,1)" text-anchor="end">6</text>
<text transform="translate(75.3,181.1) scale(0.82,1)" text-anchor="end">12</text>
<text transform="translate(6.3,203.0) scale(0.82,1)" text-anchor="start">Z [µm]</text>
<text transform="translate(266.3,366.7) scale(0.82,1)" text-anchor="middle">X [µm]</text>
<text transform="translate(723.5,362.8) scale(0.82,1)" text-anchor="middle">Y [µm]</text>
</g>
</g>
<text x="2143.46" y="76.10" textLength="51.16" lengthAdjust="spacingAndGlyphs" style="font-family:'Liberation Sans', Arial, sans-serif;font-size:81.00px;font-weight:bold;font-style:normal;font-kerning:none" fill="#000" >B</text>
<rect x="2530.50" y="423.46" width="109.50" height="669.64" fill="url(#gBlue)" stroke="#555658" stroke-width="4.4" filter="url(#shadow)"/>
<rect x="2640.00" y="454.32" width="109.50" height="638.78" fill="url(#gRed)" stroke="#555658" stroke-width="4.4" filter="url(#shadow)"/>
<g stroke="#555" stroke-width="4.2"><line x1="2585.25" y1="408.45" x2="2585.25" y2="439.31"/><line x1="2571.25" y1="408.45" x2="2599.25" y2="408.45"/><line x1="2571.25" y1="439.31" x2="2599.25" y2="439.31"/></g>
<g stroke="#555" stroke-width="4.2"><line x1="2694.75" y1="435.14" x2="2694.75" y2="475.17"/><line x1="2680.75" y1="435.14" x2="2708.75" y2="435.14"/><line x1="2680.75" y1="475.17" x2="2708.75" y2="475.17"/></g>
<rect x="2912.80" y="399.28" width="109.50" height="693.82" fill="url(#gBlue)" stroke="#555658" stroke-width="4.4" filter="url(#shadow)"/>
<rect x="3022.30" y="441.81" width="109.50" height="651.29" fill="url(#gRed)" stroke="#555658" stroke-width="4.4" filter="url(#shadow)"/>
<g stroke="#555" stroke-width="4.2"><line x1="2967.55" y1="391.78" x2="2967.55" y2="406.79"/><line x1="2953.55" y1="391.78" x2="2981.55" y2="391.78"/><line x1="2953.55" y1="406.79" x2="2981.55" y2="406.79"/></g>
<g stroke="#555" stroke-width="4.2"><line x1="3077.05" y1="419.30" x2="3077.05" y2="466.83"/><line x1="3063.05" y1="419.30" x2="3091.05" y2="419.30"/><line x1="3063.05" y1="466.83" x2="3091.05" y2="466.83"/></g>
<rect x="3295.10" y="952.17" width="109.50" height="140.93" fill="url(#gBlue)" stroke="#555658" stroke-width="4.4" filter="url(#shadow)"/>
<rect x="3404.60" y="947.16" width="109.50" height="145.94" fill="url(#gRed)" stroke="#555658" stroke-width="4.4" filter="url(#shadow)"/>
<g stroke="#555" stroke-width="4.2"><line x1="3349.85" y1="922.98" x2="3349.85" y2="984.69"/><line x1="3335.85" y1="922.98" x2="3363.85" y2="922.98"/><line x1="3335.85" y1="984.69" x2="3363.85" y2="984.69"/></g>
<g stroke="#555" stroke-width="4.2"><line x1="3459.35" y1="865.44" x2="3459.35" y2="1030.56"/><line x1="3445.35" y1="865.44" x2="3473.35" y2="865.44"/><line x1="3445.35" y1="1030.56" x2="3473.35" y2="1030.56"/></g>
<rect x="2450.30" y="92.40" width="1146.90" height="1000.70" fill="none" stroke="#5a5a5a" stroke-width="5"/>
<line x1="2430.30" y1="1093.10" x2="2450.30" y2="1093.10" stroke="#5a5a5a" stroke-width="5"/>
<text x="2393.30" y="1110.29" text-anchor="end" style="font-family:'Liberation Sans', Arial, sans-serif;font-size:55px" fill="#1a1a1a">0</text>
<line x1="2430.30" y1="926.32" x2="2450.30" y2="926.32" stroke="#5a5a5a" stroke-width="5"/>
<text x="2393.30" y="943.51" text-anchor="end" style="font-family:'Liberation Sans', Arial, sans-serif;font-size:55px" fill="#1a1a1a">2</text>
<line x1="2430.30" y1="759.53" x2="2450.30" y2="759.53" stroke="#5a5a5a" stroke-width="5"/>
<text x="2393.30" y="776.73" text-anchor="end" style="font-family:'Liberation Sans', Arial, sans-serif;font-size:55px" fill="#1a1a1a">4</text>
<line x1="2430.30" y1="592.75" x2="2450.30" y2="592.75" stroke="#5a5a5a" stroke-width="5"/>
<text x="2393.30" y="609.94" text-anchor="end" style="font-family:'Liberation Sans', Arial, sans-serif;font-size:55px" fill="#1a1a1a">6</text>
<line x1="2430.30" y1="425.97" x2="2450.30" y2="425.97" stroke="#5a5a5a" stroke-width="5"/>
<text x="2393.30" y="443.16" text-anchor="end" style="font-family:'Liberation Sans', Arial, sans-serif;font-size:55px" fill="#1a1a1a">8</text>
<line x1="2430.30" y1="259.18" x2="2450.30" y2="259.18" stroke="#5a5a5a" stroke-width="5"/>
<text x="2393.30" y="276.38" text-anchor="end" style="font-family:'Liberation Sans', Arial, sans-serif;font-size:55px" fill="#1a1a1a">10</text>
<line x1="2430.30" y1="92.40" x2="2450.30" y2="92.40" stroke="#5a5a5a" stroke-width="5"/>
<text x="2393.30" y="109.59" text-anchor="end" style="font-family:'Liberation Sans', Arial, sans-serif;font-size:55px" fill="#1a1a1a">12</text>
<line x1="2450.30" y1="1093.10" x2="2450.30" y2="1112.10" stroke="#5a5a5a" stroke-width="5"/>
<line x1="2832.60" y1="1093.10" x2="2832.60" y2="1112.10" stroke="#5a5a5a" stroke-width="5"/>
<line x1="3214.90" y1="1093.10" x2="3214.90" y2="1112.10" stroke="#5a5a5a" stroke-width="5"/>
<line x1="3597.20" y1="1093.10" x2="3597.20" y2="1112.10" stroke="#5a5a5a" stroke-width="5"/>
<text x="2553.59" y="1190.70" textLength="168.72" lengthAdjust="spacingAndGlyphs" style="font-family:'Liberation Sans', Arial, sans-serif;font-size:57.00px;font-weight:normal;font-style:normal;font-kerning:none" fill="#1a1a1a" >PMMA</text>
<text x="2947.27" y="1190.70" textLength="148.22" lengthAdjust="spacingAndGlyphs" style="font-family:'Liberation Sans', Arial, sans-serif;font-size:57.00px;font-weight:normal;font-style:normal;font-kerning:none" fill="#1a1a1a" >nHAp</text>
<text x="3244.56" y="1190.70" textLength="319.27" lengthAdjust="spacingAndGlyphs" style="font-family:'Liberation Sans', Arial, sans-serif;font-size:57.00px;font-weight:normal;font-style:normal;font-kerning:none" fill="#1a1a1a" >95:5 HAp:Ag</text>
<rect x="2892.40" y="131.30" width="650.20" height="87.90" fill="#fff" stroke="#555" stroke-width="4.4"/>
<rect x="2939.60" y="159.20" width="29.90" height="30.00" fill="url(#gBlue)" stroke="#50545a" stroke-width="4"/>
<rect x="3289.30" y="159.20" width="30.00" height="30.00" fill="url(#gRed)" stroke="#50545a" stroke-width="4"/>
<text x="2981.02" y="191.20" textLength="262.24" lengthAdjust="spacingAndGlyphs" style="font-family:'Liberation Sans', Arial, sans-serif;font-size:52.00px;font-weight:normal;font-style:normal;font-kerning:none" fill="#1a1a1a" >Suspension</text>
<text x="3328.67" y="191.20" textLength="187.87" lengthAdjust="spacingAndGlyphs" style="font-family:'Liberation Sans', Arial, sans-serif;font-size:52.00px;font-weight:normal;font-style:normal;font-kerning:none" fill="#1a1a1a" >Material</text>
<text transform="translate(2207.50,898.00) rotate(-90)" x="-0.45" y="0" textLength="194.91" lengthAdjust="spacingAndGlyphs" style="font-family:'Liberation Sans', Arial, sans-serif;font-size:67.00px;font-weight:bold;font-style:normal;font-kerning:none" fill="#000" >Viable</text>
<text transform="translate(2207.50,688.30) rotate(-90)" x="-1.01" y="0" textLength="54.44" lengthAdjust="spacingAndGlyphs" style="font-family:'Liberation Sans', Arial, sans-serif;font-size:67.00px;font-weight:bold;font-style:italic;font-kerning:none" fill="#000" >P.</text>
<text transform="translate(2207.50,622.90) rotate(-90)" x="-0.31" y="0" textLength="337.97" lengthAdjust="spacingAndGlyphs" style="font-family:'Liberation Sans', Arial, sans-serif;font-size:67.00px;font-weight:bold;font-style:italic;font-kerning:none" fill="#000" >aeruginosa</text>
<text transform="translate(2291.60,783.90) rotate(-90)" x="-3.19" y="0" textLength="138.67" lengthAdjust="spacingAndGlyphs" style="font-family:'Liberation Sans', Arial, sans-serif;font-size:67.00px;font-weight:bold;font-style:normal;font-kerning:none" fill="#000" >(Log</text>
<text transform="translate(2291.60,633.40) rotate(-90)" x="-2.66" y="0" textLength="249.00" lengthAdjust="spacingAndGlyphs" style="font-family:'Liberation Sans', Arial, sans-serif;font-size:67.00px;font-weight:bold;font-style:normal;font-kerning:none" fill="#000" >CFU/ml)</text>
<text transform="translate(3339.20,814.00) rotate(90)" x="-19.40" y="14.52" style="font-family:'DejaVu Sans',sans-serif;font-size:46.3px" fill="#1a1a1a" stroke="#1a1a1a" stroke-width="0.9">∗</text>
<text transform="translate(3440.30,734.90) rotate(90)" x="-19.40" y="14.52" style="font-family:'DejaVu Sans',sans-serif;font-size:46.3px" fill="#1a1a1a" stroke="#1a1a1a" stroke-width="0.9">∗</text>
<text transform="translate(3476.20,734.90) rotate(90)" x="-19.40" y="14.52" style="font-family:'DejaVu Sans',sans-serif;font-size:46.3px" fill="#1a1a1a" stroke="#1a1a1a" stroke-width="0.9">∗</text>
<text x="2132.77" y="1353.00" textLength="48.05" lengthAdjust="spacingAndGlyphs" style="font-family:'Liberation Sans', Arial, sans-serif;font-size:81.00px;font-weight:bold;font-style:normal;font-kerning:none" fill="#000" >C</text>
<rect x="2528.60" y="1643.57" width="109.50" height="728.33" fill="url(#gBlue)" stroke="#555658" stroke-width="4.4" filter="url(#shadow)"/>
<rect x="2638.10" y="1673.17" width="109.50" height="698.73" fill="url(#gRed)" stroke="#555658" stroke-width="4.4" filter="url(#shadow)"/>
<g stroke="#555" stroke-width="4.2"><line x1="2583.35" y1="1634.26" x2="2583.35" y2="1652.02"/><line x1="2569.35" y1="1634.26" x2="2597.35" y2="1634.26"/><line x1="2569.35" y1="1652.02" x2="2597.35" y2="1652.02"/></g>
<g stroke="#555" stroke-width="4.2"><line x1="2692.85" y1="1628.34" x2="2692.85" y2="1718.01"/><line x1="2678.85" y1="1628.34" x2="2706.85" y2="1628.34"/><line x1="2678.85" y1="1718.01" x2="2706.85" y2="1718.01"/></g>
<rect x="2911.53" y="1652.02" width="109.50" height="719.88" fill="url(#gBlue)" stroke="#555658" stroke-width="4.4" filter="url(#shadow)"/>
<rect x="3021.03" y="1668.10" width="109.50" height="703.80" fill="url(#gRed)" stroke="#555658" stroke-width="4.4" filter="url(#shadow)"/>
<g stroke="#555" stroke-width="4.2"><line x1="2966.28" y1="1627.49" x2="2966.28" y2="1674.02"/><line x1="2952.28" y1="1627.49" x2="2980.28" y2="1627.49"/><line x1="2952.28" y1="1674.02" x2="2980.28" y2="1674.02"/></g>
<g stroke="#555" stroke-width="4.2"><line x1="3075.78" y1="1660.48" x2="3075.78" y2="1675.71"/><line x1="3061.78" y1="1660.48" x2="3089.78" y2="1660.48"/><line x1="3061.78" y1="1675.71" x2="3089.78" y2="1675.71"/></g>
<rect x="3294.47" y="1627.49" width="109.50" height="744.41" fill="url(#gBlue)" stroke="#555658" stroke-width="4.4" filter="url(#shadow)"/>
<rect x="3403.97" y="1647.80" width="109.50" height="724.10" fill="url(#gRed)" stroke="#555658" stroke-width="4.4" filter="url(#shadow)"/>
<g stroke="#555" stroke-width="4.2"><line x1="3349.22" y1="1619.88" x2="3349.22" y2="1635.11"/><line x1="3335.22" y1="1619.88" x2="3363.22" y2="1619.88"/><line x1="3335.22" y1="1635.11" x2="3363.22" y2="1635.11"/></g>
<g stroke="#555" stroke-width="4.2"><line x1="3458.72" y1="1637.64" x2="3458.72" y2="1660.48"/><line x1="3444.72" y1="1637.64" x2="3472.72" y2="1637.64"/><line x1="3444.72" y1="1660.48" x2="3472.72" y2="1660.48"/></g>
<rect x="2448.40" y="1356.80" width="1148.80" height="1015.10" fill="none" stroke="#5a5a5a" stroke-width="5"/>
<line x1="2428.40" y1="2371.90" x2="2448.40" y2="2371.90" stroke="#5a5a5a" stroke-width="5"/>
<text x="2391.40" y="2389.10" text-anchor="end" style="font-family:'Liberation Sans', Arial, sans-serif;font-size:55px" fill="#1a1a1a">0</text>
<line x1="2428.40" y1="2202.72" x2="2448.40" y2="2202.72" stroke="#5a5a5a" stroke-width="5"/>
<text x="2391.40" y="2219.91" text-anchor="end" style="font-family:'Liberation Sans', Arial, sans-serif;font-size:55px" fill="#1a1a1a">2</text>
<line x1="2428.40" y1="2033.53" x2="2448.40" y2="2033.53" stroke="#5a5a5a" stroke-width="5"/>
<text x="2391.40" y="2050.73" text-anchor="end" style="font-family:'Liberation Sans', Arial, sans-serif;font-size:55px" fill="#1a1a1a">4</text>
<line x1="2428.40" y1="1864.35" x2="2448.40" y2="1864.35" stroke="#5a5a5a" stroke-width="5"/>
<text x="2391.40" y="1881.54" text-anchor="end" style="font-family:'Liberation Sans', Arial, sans-serif;font-size:55px" fill="#1a1a1a">6</text>
<line x1="2428.40" y1="1695.17" x2="2448.40" y2="1695.17" stroke="#5a5a5a" stroke-width="5"/>
<text x="2391.40" y="1712.36" text-anchor="end" style="font-family:'Liberation Sans', Arial, sans-serif;font-size:55px" fill="#1a1a1a">8</text>
<line x1="2428.40" y1="1525.98" x2="2448.40" y2="1525.98" stroke="#5a5a5a" stroke-width="5"/>
<text x="2391.40" y="1543.18" text-anchor="end" style="font-family:'Liberation Sans', Arial, sans-serif;font-size:55px" fill="#1a1a1a">10</text>
<line x1="2428.40" y1="1356.80" x2="2448.40" y2="1356.80" stroke="#5a5a5a" stroke-width="5"/>
<text x="2391.40" y="1373.99" text-anchor="end" style="font-family:'Liberation Sans', Arial, sans-serif;font-size:55px" fill="#1a1a1a">12</text>
<line x1="2448.40" y1="2371.90" x2="2448.40" y2="2390.90" stroke="#5a5a5a" stroke-width="5"/>
<line x1="2831.33" y1="2371.90" x2="2831.33" y2="2390.90" stroke="#5a5a5a" stroke-width="5"/>
<line x1="3214.27" y1="2371.90" x2="3214.27" y2="2390.90" stroke="#5a5a5a" stroke-width="5"/>
<line x1="3597.20" y1="2371.90" x2="3597.20" y2="2390.90" stroke="#5a5a5a" stroke-width="5"/>
<text x="2553.59" y="2470.50" textLength="168.72" lengthAdjust="spacingAndGlyphs" style="font-family:'Liberation Sans', Arial, sans-serif;font-size:57.00px;font-weight:normal;font-style:normal;font-kerning:none" fill="#1a1a1a" >PMMA</text>
<text x="2947.27" y="2470.50" textLength="148.22" lengthAdjust="spacingAndGlyphs" style="font-family:'Liberation Sans', Arial, sans-serif;font-size:57.00px;font-weight:normal;font-style:normal;font-kerning:none" fill="#1a1a1a" >nHAp</text>
<text x="3244.56" y="2470.50" textLength="319.27" lengthAdjust="spacingAndGlyphs" style="font-family:'Liberation Sans', Arial, sans-serif;font-size:57.00px;font-weight:normal;font-style:normal;font-kerning:none" fill="#1a1a1a" >95:5 HAp:Ag</text>
<rect x="2884.30" y="1408.00" width="657.90" height="93.50" fill="#fff" stroke="#555" stroke-width="4.4"/>
<rect x="2935.00" y="1441.00" width="29.30" height="28.00" fill="url(#gBlue)" stroke="#50545a" stroke-width="4"/>
<rect x="3287.40" y="1441.00" width="27.90" height="28.00" fill="url(#gRed)" stroke="#50545a" stroke-width="4"/>
<text x="2977.73" y="1471.20" textLength="260.81" lengthAdjust="spacingAndGlyphs" style="font-family:'Liberation Sans', Arial, sans-serif;font-size:52.00px;font-weight:normal;font-style:normal;font-kerning:none" fill="#1a1a1a" >Suspension</text>
<text x="3326.69" y="1471.20" textLength="186.82" lengthAdjust="spacingAndGlyphs" style="font-family:'Liberation Sans', Arial, sans-serif;font-size:52.00px;font-weight:normal;font-style:normal;font-kerning:none" fill="#1a1a1a" >Material</text>
<text transform="translate(2217.00,2119.70) rotate(-90)" x="-0.44" y="0" textLength="191.06" lengthAdjust="spacingAndGlyphs" style="font-family:'Liberation Sans', Arial, sans-serif;font-size:67.00px;font-weight:bold;font-style:normal;font-kerning:none" fill="#000" >Viable</text>
<text transform="translate(2217.00,1918.80) rotate(-90)" x="-0.86" y="0" textLength="66.58" lengthAdjust="spacingAndGlyphs" style="font-family:'Liberation Sans', Arial, sans-serif;font-size:67.00px;font-weight:bold;font-style:italic;font-kerning:none" fill="#000" >S.</text>
<text transform="translate(2217.00,1849.70) rotate(-90)" x="-0.31" y="0" textLength="208.08" lengthAdjust="spacingAndGlyphs" style="font-family:'Liberation Sans', Arial, sans-serif;font-size:67.00px;font-weight:bold;font-style:italic;font-kerning:none" fill="#000" >aureus</text>
<text transform="translate(2300.30,2073.90) rotate(-90)" x="-3.22" y="0" textLength="140.05" lengthAdjust="spacingAndGlyphs" style="font-family:'Liberation Sans', Arial, sans-serif;font-size:67.00px;font-weight:bold;font-style:normal;font-kerning:none" fill="#000" >(Log</text>
<text transform="translate(2300.30,1923.40) rotate(-90)" x="-2.66" y="0" textLength="249.00" lengthAdjust="spacingAndGlyphs" style="font-family:'Liberation Sans', Arial, sans-serif;font-size:67.00px;font-weight:bold;font-style:normal;font-kerning:none" fill="#000" >CFU/ml)</text>
<text x="211.36" y="1668.40" textLength="59.82" lengthAdjust="spacingAndGlyphs" style="font-family:'Liberation Sans', Arial, sans-serif;font-size:81.00px;font-weight:bold;font-style:normal;font-kerning:none" fill="#000" >D</text>
<rect x="816.40" y="1701.40" width="120" height="545.11" fill="url(#gYel)" stroke="#5e574c" stroke-width="4.4"/>
<rect x="936.40" y="1701.40" width="120" height="666.87" fill="url(#gGry)" stroke="#595959" stroke-width="4.4"/>
<rect x="1238.40" y="1701.40" width="120" height="15.59" fill="url(#gYel)" stroke="#5e574c" stroke-width="4.4"/>
<rect x="1358.40" y="1701.40" width="120" height="48.94" fill="url(#gGry)" stroke="#595959" stroke-width="4.4"/>
<rect x="1660.40" y="1701.40" width="120" height="123.59" fill="url(#gYel)" stroke="#5e574c" stroke-width="4.4"/>
<rect x="1780.40" y="1701.40" width="120" height="90.58" fill="url(#gGry)" stroke="#595959" stroke-width="4.4"/>
<rect x="725.4" y="1701.4" width="1266.00" height="746.50" fill="none" stroke="#5a5a5a" stroke-width="4.8"/>
<line x1="708.4" y1="1701.40" x2="725.4" y2="1701.40" stroke="#5a5a5a" stroke-width="4.8"/>
<text x="669" y="1719.94" text-anchor="end" style="font-family:'Liberation Sans', Arial, sans-serif;font-size:56px" fill="#1a1a1a">0</text>
<line x1="708.4" y1="1784.34" x2="725.4" y2="1784.34" stroke="#5a5a5a" stroke-width="4.8"/>
<text x="669" y="1802.89" text-anchor="end" style="font-family:'Liberation Sans', Arial, sans-serif;font-size:56px" fill="#1a1a1a">-5</text>
<line x1="708.4" y1="1867.29" x2="725.4" y2="1867.29" stroke="#5a5a5a" stroke-width="4.8"/>
<text x="669" y="1885.83" text-anchor="end" style="font-family:'Liberation Sans', Arial, sans-serif;font-size:56px" fill="#1a1a1a">-10</text>
<line x1="708.4" y1="1950.23" x2="725.4" y2="1950.23" stroke="#5a5a5a" stroke-width="4.8"/>
<text x="669" y="1968.78" text-anchor="end" style="font-family:'Liberation Sans', Arial, sans-serif;font-size:56px" fill="#1a1a1a">-15</text>
<line x1="708.4" y1="2033.18" x2="725.4" y2="2033.18" stroke="#5a5a5a" stroke-width="4.8"/>
<text x="669" y="2051.72" text-anchor="end" style="font-family:'Liberation Sans', Arial, sans-serif;font-size:56px" fill="#1a1a1a">-20</text>
<line x1="708.4" y1="2116.12" x2="725.4" y2="2116.12" stroke="#5a5a5a" stroke-width="4.8"/>
<text x="669" y="2134.67" text-anchor="end" style="font-family:'Liberation Sans', Arial, sans-serif;font-size:56px" fill="#1a1a1a">-25</text>
<line x1="708.4" y1="2199.07" x2="725.4" y2="2199.07" stroke="#5a5a5a" stroke-width="4.8"/>
<text x="669" y="2217.61" text-anchor="end" style="font-family:'Liberation Sans', Arial, sans-serif;font-size:56px" fill="#1a1a1a">-30</text>
<line x1="708.4" y1="2282.01" x2="725.4" y2="2282.01" stroke="#5a5a5a" stroke-width="4.8"/>
<text x="669" y="2300.56" text-anchor="end" style="font-family:'Liberation Sans', Arial, sans-serif;font-size:56px" fill="#1a1a1a">-35</text>
<line x1="708.4" y1="2364.96" x2="725.4" y2="2364.96" stroke="#5a5a5a" stroke-width="4.8"/>
<text x="669" y="2383.50" text-anchor="end" style="font-family:'Liberation Sans', Arial, sans-serif;font-size:56px" fill="#1a1a1a">-40</text>
<line x1="708.4" y1="2447.90" x2="725.4" y2="2447.90" stroke="#5a5a5a" stroke-width="4.8"/>
<text x="669" y="2466.44" text-anchor="end" style="font-family:'Liberation Sans', Arial, sans-serif;font-size:56px" fill="#1a1a1a">-45</text>
<line x1="725.40" y1="1682.4" x2="725.40" y2="1701.4" stroke="#5a5a5a" stroke-width="4.8"/>
<line x1="1147.40" y1="1682.4" x2="1147.40" y2="1701.4" stroke="#5a5a5a" stroke-width="4.8"/>
<line x1="1569.40" y1="1682.4" x2="1569.40" y2="1701.4" stroke="#5a5a5a" stroke-width="4.8"/>
<line x1="1991.40" y1="1682.4" x2="1991.40" y2="1701.4" stroke="#5a5a5a" stroke-width="4.8"/>
<text x="903.29" y="1641.50" textLength="70.21" lengthAdjust="spacingAndGlyphs" style="font-family:'Liberation Sans', Arial, sans-serif;font-size:58.00px;font-weight:normal;font-style:normal;font-kerning:none" fill="#1a1a1a" >Ag</text>
<text x="1325.42" y="1641.50" textLength="62.38" lengthAdjust="spacingAndGlyphs" style="font-family:'Liberation Sans', Arial, sans-serif;font-size:58.00px;font-weight:normal;font-style:normal;font-kerning:none" fill="#1a1a1a" >Ca</text>
<text x="1763.30" y="1641.50" textLength="33.34" lengthAdjust="spacingAndGlyphs" style="font-family:'Liberation Sans', Arial, sans-serif;font-size:58.00px;font-weight:normal;font-style:normal;font-kerning:none" fill="#1a1a1a" >P</text>
<rect x="1566.6" y="2217.2" width="391.60" height="185.90" fill="#fff" stroke="#555" stroke-width="3.5"/>
<rect x="1596.9" y="2249.9" width="29.2" height="28.2" fill="url(#gYel)" stroke="#5e574c" stroke-width="4"/>
<rect x="1596.9" y="2342.6" width="29.2" height="28.3" fill="url(#gGry)" stroke="#555" stroke-width="4"/>
<text x="1636.51" y="2280.10" textLength="293.69" lengthAdjust="spacingAndGlyphs" style="font-family:'Liberation Sans', Arial, sans-serif;font-size:51.00px;font-weight:normal;font-style:normal;font-kerning:none" fill="#1a1a1a" >D14/D1 ratio</text>
<text x="1636.51" y="2373.80" textLength="293.69" lengthAdjust="spacingAndGlyphs" style="font-family:'Liberation Sans', Arial, sans-serif;font-size:51.00px;font-weight:normal;font-style:normal;font-kerning:none" fill="#1a1a1a" >D28/D1 ratio</text>
<text transform="translate(295.90,2255.00) rotate(-90)" x="-1.59" y="0" textLength="372.14" lengthAdjust="spacingAndGlyphs" style="font-family:'Liberation Sans', Arial, sans-serif;font-size:67.00px;font-weight:bold;font-style:normal;font-kerning:none" fill="#000" >% change in</text>
<text transform="translate(380.50,2283.20) rotate(-90)" x="-2.52" y="0" textLength="426.72" lengthAdjust="spacingAndGlyphs" style="font-family:'Liberation Sans', Arial, sans-serif;font-size:67.00px;font-weight:bold;font-style:normal;font-kerning:none" fill="#000" >concentration</text>
<text transform="translate(465.00,2351.00) rotate(-90)" x="-2.45" y="0" textLength="554.20" lengthAdjust="spacingAndGlyphs" style="font-family:'Liberation Sans', Arial, sans-serif;font-size:67.00px;font-weight:bold;font-style:normal;font-kerning:none" fill="#000" >compared to day 1</text>
<text transform="translate(549.70,2187.00) rotate(-90)" x="-4.33" y="0" textLength="226.58" lengthAdjust="spacingAndGlyphs" style="font-family:'Liberation Sans', Arial, sans-serif;font-size:67.00px;font-weight:bold;font-style:normal;font-kerning:none" fill="#000" >release</text>
</svg>
</body></html>
